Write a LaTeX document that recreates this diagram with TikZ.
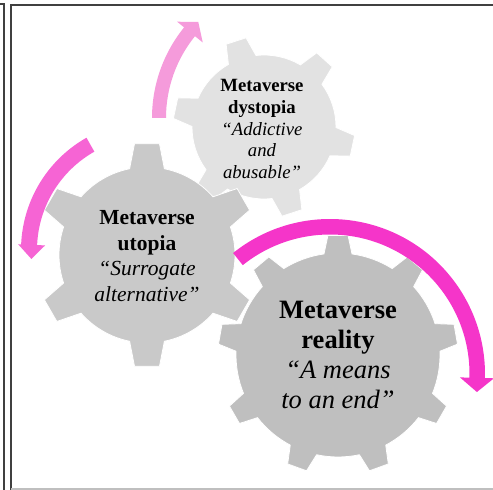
\documentclass[tikz,border=0pt]{standalone}
\usepackage{fontspec}
\setmainfont{Liberation Serif}
\usetikzlibrary{calc}
\definecolor{gearDys}{HTML}{E2E2E2}
\definecolor{gearUto}{HTML}{C9C9C9}
\definecolor{gearRea}{HTML}{BFBFBF}
\definecolor{arrowOne}{HTML}{F59BDB}
\definecolor{arrowTwo}{HTML}{F664D4}
\definecolor{arrowThree}{HTML}{F535C9}
\definecolor{frameDark}{HTML}{404040}
\definecolor{frameLight}{HTML}{BFBFBF}
% #1 style, #2 x, #3 y, #4 teeth, #5 outer r, #6 inner r, #7 tip half-angle, #8 base half-angle, #9 phase
\newcommand\drawgear[9]{%
  \fill[#1] ($(#2,#3)+({#9+#8}:#6)$)
  \foreach \k in {1,...,#4}{
    arc[start angle={#9+(\k-1)*360/#4+#8}, end angle={#9+\k*360/#4-#8}, radius=#6]
    -- ($(#2,#3)+({#9+\k*360/#4-#7}:#5)$)
    -- ($(#2,#3)+({#9+\k*360/#4+#7}:#5)$)
    -- ($(#2,#3)+({#9+\k*360/#4+#8}:#6)$)
  } -- cycle;%
}
\begin{document}
\begin{tikzpicture}[x=1pt,y=1pt,
  gearstyle/.style={draw=white,line width=0.8pt},
  gtext/.style={align=center,text=black,inner sep=0pt},
  framestyle/.style={draw=frameDark,line width=1.3pt}]
\useasboundingbox (0,0) rectangle (493,490);
% frame
\draw[framestyle] (0,486) -- (4,486) -- (4,0);
\draw[framestyle] (493,485) -- (11,485) -- (11,0);
\draw[draw=frameLight,line width=1.2pt] (11,1) -- (493,1);
% gears
\drawgear{gearDys,gearstyle}{264}{363}{6}{91}{72}{6.6}{11.6}{108}
\drawgear{gearUto,gearstyle}{147}{235}{6}{112}{88}{6.4}{11.4}{90}
\drawgear{gearRea,gearstyle}{338}{135}{9}{120}{102}{4.8}{7.9}{90}
% arrows
\coordinate (c1) at (296,372);
\coordinate (c2) at (150,240);
\coordinate (c3) at (330,116);
\fill[arrowOne] ($(c1)+(180:144)$) arc[start angle=180,end angle=141,radius=144]
  -- ($(c1)+(141:153)$) -- ($(c1)+(135.5:137)$) -- ($(c1)+(141:120)$)
  -- ($(c1)+(141:130)$) arc[start angle=141,end angle=180,radius=130] -- cycle;
\fill[arrowTwo] ($(c2)+(119.5:129)$) arc[start angle=119.5,end angle=177.5,radius=129]
  -- ($(c2)+(177.5:132)$) -- ($(c2)+(184.3:119)$) -- ($(c2)+(177.5:105)$)
  -- ($(c2)+(177.5:113)$) arc[start angle=177.5,end angle=119.5,radius=113] -- cycle;
\fill[arrowThree] ($(c3)+(128.7:155)$) arc[start angle=128.7,end angle=-1.5,radius=155]
  -- ($(c3)+(-1.5:164)$) -- ($(c3)+(-7:148)$) -- ($(c3)+(-1.5:130)$)
  -- ($(c3)+(-1.5:139.5)$) arc[start angle=-1.5,end angle=128.7,radius=139.5] -- cycle;
% texts
\node[gtext,font=\fontsize{18.7}{21.7}\selectfont] (dys) at (262,361)
  {\textbf{Metaverse}\\\textbf{dystopia}\\\textit{“Addictive}\\\textit{and}\\\textit{abusable”}};
\node[gtext,font=\fontsize{21.5}{25.5}\selectfont] (uto) at (147,234)
  {\textbf{Metaverse}\\\textbf{utopia}\\\textit{“Surrogate}\\\textit{alternative”}};
\node[gtext,font=\fontsize{26.5}{30}\selectfont] (rea) at (338,135)
  {\textbf{Metaverse}\\\textbf{reality}\\\textit{“A means}\\\textit{to an end”}};
\end{tikzpicture}
\end{document}
